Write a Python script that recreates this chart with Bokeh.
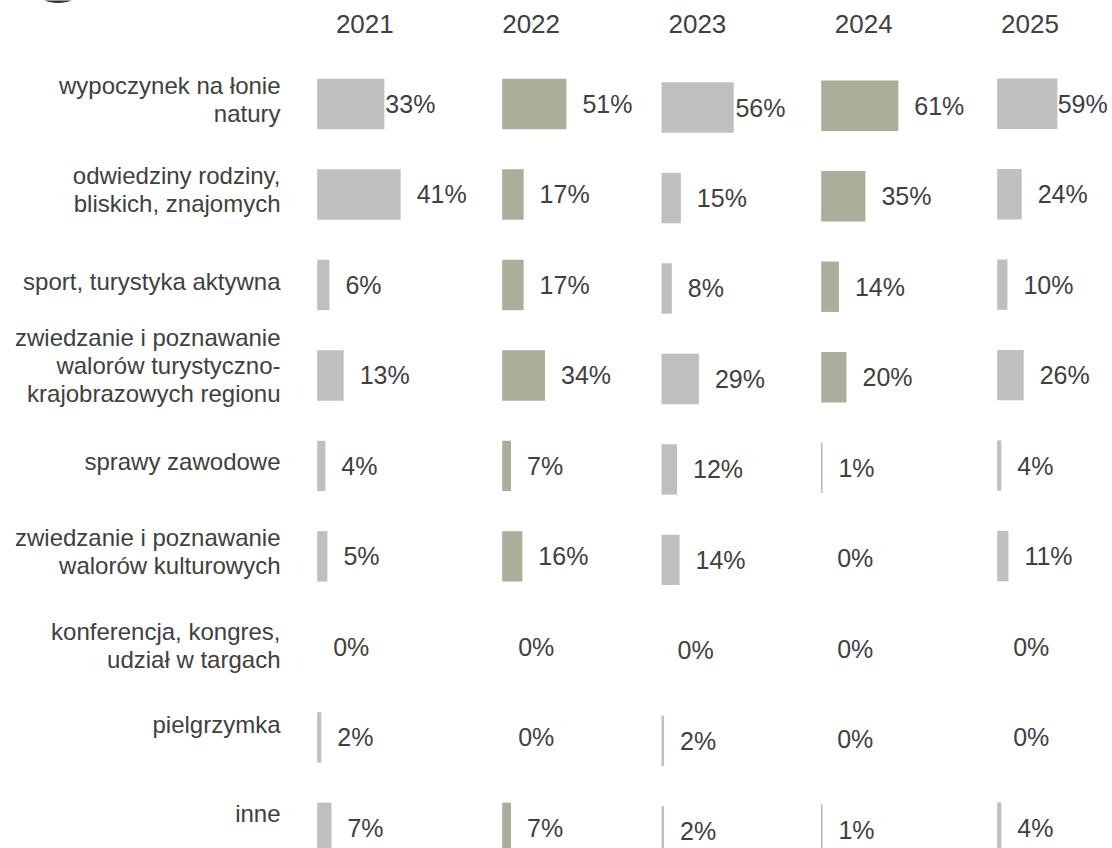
from bokeh.plotting import figure
from bokeh.models import Range1d, ColumnDataSource
from bokeh.core.properties import value
from bokeh.embed import file_html
from bokeh.resources import INLINE

# ---------------- data ----------------
categories = [
    "wypoczynek na łonie\nnatury",
    "odwiedziny rodziny,\nbliskich, znajomych",
    "sport, turystyka aktywna",
    "zwiedzanie i poznawanie\nwalorów turystyczno-\nkrajobrazowych regionu",
    "sprawy zawodowe",
    "zwiedzanie i poznawanie\nwalorów kulturowych",
    "konferencja, kongres,\nudział w targach",
    "pielgrzymka",
    "inne",
]
years = ["2021", "2022", "2023", "2024", "2025"]
v2021 = [33, 41, 6, 13, 4, 5, 0, 2, 7]
v2022 = [51, 17, 17, 34, 7, 16, 0, 0, 7]
v2023 = [56, 15, 8, 29, 12, 14, 0, 2, 2]
v2024 = [61, 35, 14, 20, 1, 0, 0, 0, 1]
v2025 = [59, 24, 10, 26, 4, 11, 0, 0, 4]
series = [v2021, v2022, v2023, v2024, v2025]

# ---------------- layout / style ----------------
W, H = 1112, 848
PANEL_X = [316.7, 501.7, 661.0, 820.7, 996.7]      # left edge of each year's bars
PX_PER_PCT = [2.035, 1.26, 1.29, 1.264, 1.02]      # each panel has its own scale
COL_DY = [0.0, 0.0, 3.5, 1.8, -0.3]
ROW0, ROW_STEP, BAR_H = 103.5, 90.48, 50.4
LABEL_GAP = 16
TIGHT_GAP = {(0, 0): 1.0, (0, 2): 1.7, (0, 4): 0.3}
LABEL_DY = [-4.9, -4.9, -3.0, -9.7, -4.9, -5.4, -0.9, -12.4, -14.4]
COLORS = ["#BFBFBF", "#ADAD9C", "#BFBFBF", "#ADAD9C", "#BFBFBF"]
TXT = "#404040"
FONT = value("Liberation Sans")
PCT_FS, CAT_FS, YEAR_FS = 25, 24, 26
CAT_LINE = 28
CAT_RIGHT = 280
YEAR_X0, YEAR_STEP, YEAR_MID = 364.3, 166.3, 23.2

p = figure(width=W, height=H, x_range=Range1d(0, W), y_range=Range1d(H, 0),
           output_backend="svg", toolbar_location=None, min_border=0,
           x_axis_location=None, y_axis_location=None)
p.grid.visible = False
p.outline_line_color = None
p.background_fill_color = "white"
p.border_fill_color = "white"

# decorative logo sliver at the top-left corner
p.ellipse(x=[57.5], y=[-10], width=[43], height=[25], fill_color="#333333", line_color=None)

# bars and value labels (text y = visual middle of the text)
bl, br, bt, bb, bc = [], [], [], [], []
lx, ly, lt = [], [], []
for j, vals in enumerate(series):
    for i, v in enumerate(vals):
        cy = ROW0 + i * ROW_STEP + COL_DY[j]
        x0 = PANEL_X[j]
        x1 = x0 + v * PX_PER_PCT[j]
        if v > 0:
            bl.append(x0); br.append(x1)
            bt.append(cy - BAR_H / 2); bb.append(cy + BAR_H / 2)
            bc.append(COLORS[j])
        gap = TIGHT_GAP.get((i, j), LABEL_GAP)
        lx.append(x1 + gap)
        ly.append(cy)
        lt.append(f"{v}%")

p.quad(left="left", right="right", top="top", bottom="bottom", fill_color="color",
       line_color=None,
       source=ColumnDataSource(dict(left=bl, right=br, top=bt, bottom=bb, color=bc)))
p.text(x="x", y="y", text="t", source=ColumnDataSource(dict(x=lx, y=ly, t=lt)),
       text_font=FONT, text_font_size=f"{PCT_FS}px", text_color=TXT,
       text_align="left", text_baseline="middle")

# year headers
p.text(x=[YEAR_X0 + k * YEAR_STEP for k in range(len(years))],
       y=[YEAR_MID] * len(years), text=years,
       text_font=FONT, text_font_size=f"{YEAR_FS}px", text_color=TXT,
       text_align="center", text_baseline="middle")

# category labels (one text per line)
cx, cy_, ct = [], [], []
for i, c in enumerate(categories):
    lines = c.split("\n")
    n = len(lines)
    center = ROW0 + i * ROW_STEP + LABEL_DY[i]
    for k, ln in enumerate(lines):
        cx.append(CAT_RIGHT)
        cy_.append(center + (k - (n - 1) / 2) * CAT_LINE)
        ct.append(ln)
p.text(x="x", y="y", text="t", source=ColumnDataSource(dict(x=cx, y=cy_, t=ct)),
       text_font=FONT, text_font_size=f"{CAT_FS}px", text_color=TXT,
       text_align="right", text_baseline="middle")

open("out.html", "w").write(file_html(p, INLINE))
